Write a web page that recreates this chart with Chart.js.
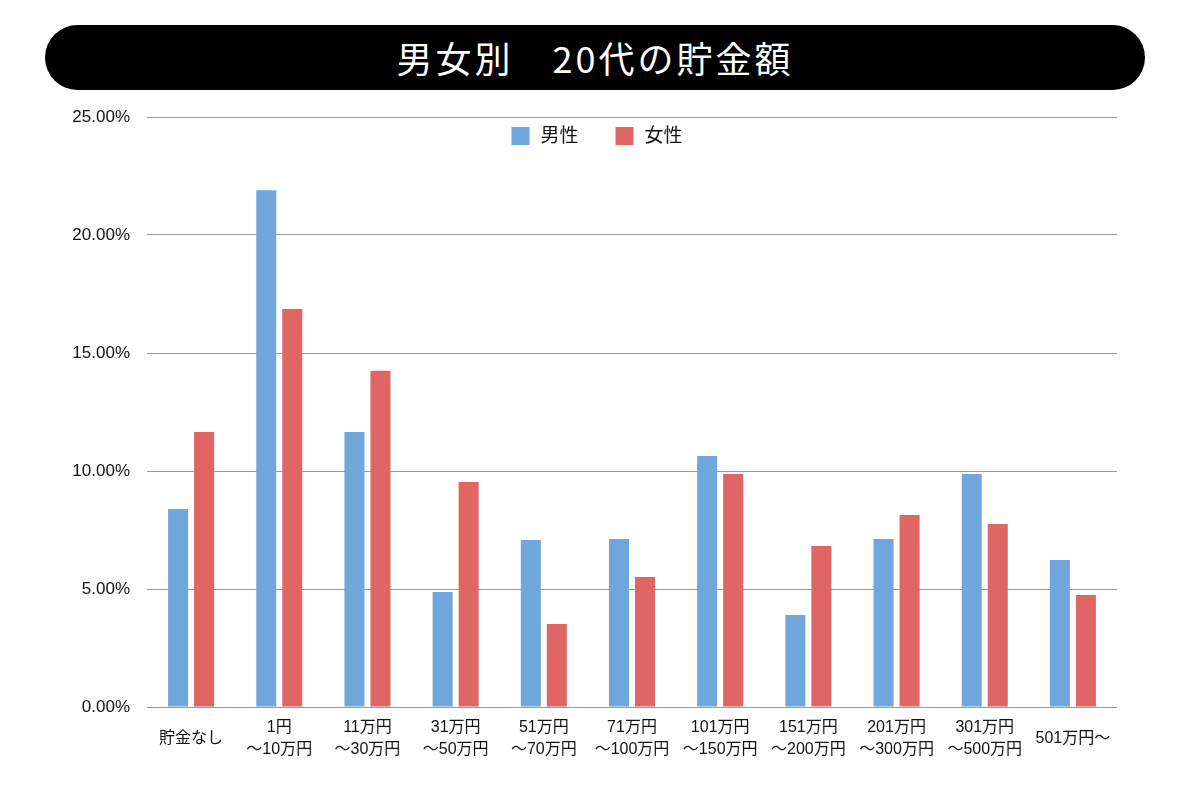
<!DOCTYPE html>
<html><head><meta charset="utf-8">
<script src="https://cdn.jsdelivr.net/npm/chart.js@4"></script>
<style>
html,body{margin:0;padding:0;background:#fff;}
#wrap{position:relative;width:1200px;height:800px;}
#title{position:absolute;left:45px;top:25px;width:1100px;height:65px;background:#000;border-radius:33px;color:#fff;font-family:'Noto Sans CJK JP',sans-serif;font-size:36px;line-height:65px;text-align:center;letter-spacing:3px;}
canvas{position:absolute;left:0;top:0;}
</style></head><body>
<div id="wrap"><div id="title">男女別　20代の貯金額</div><canvas id="c" width="1200" height="800"></canvas></div>
<script>
const categories = ['貯金なし', ['1円','〜10万円'], ['11万円','〜30万円'], ['31万円','〜50万円'], ['51万円','〜70万円'], ['71万円','〜100万円'], ['101万円','〜150万円'], ['151万円','〜200万円'], ['201万円','〜300万円'], ['301万円','〜500万円'], '501万円〜'];
const maleValues = [8.39, 21.9, 11.65, 4.87, 7.08, 7.12, 10.64, 3.90, 7.12, 9.87, 6.23];
const femaleValues = [11.65, 16.86, 14.25, 9.53, 3.52, 5.51, 9.87, 6.82, 8.14, 7.75, 4.75];
const seriesNames = ['男性', '女性'];
const yTicks = [0, 5, 10, 15, 20, 25];

const FONT = '"Liberation Sans","Noto Sans CJK JP",sans-serif';

const legendPlugin = {
  id: 'inlineLegend',
  afterDraw(chart) {
    const ctx = chart.ctx;
    const ds = chart.data.datasets;
    ctx.save();
    ctx.font = '19px ' + FONT;
    const box = 18, gap = 11, itemGap = 37;
    const widths = ds.map(d => box + gap + ctx.measureText(d.label).width);
    const total = widths.reduce((a, b) => a + b, 0) + itemGap * (ds.length - 1);
    let x = chart.width / 2 - total / 2 - 3;
    const y = 136;
    ds.forEach((d, i) => {
      ctx.fillStyle = d.backgroundColor;
      ctx.fillRect(x, y - box / 2, box, box);
      ctx.fillStyle = '#111';
      ctx.textBaseline = 'middle';
      ctx.textAlign = 'left';
      ctx.fillText(d.label, x + box + gap, y + 1);
      x += widths[i] + itemGap;
    });
    ctx.restore();
  }
};

new Chart(document.getElementById('c'), {
  type: 'bar',
  data: {
    labels: categories,
    datasets: [
      { label: seriesNames[0], data: maleValues, backgroundColor: '#6fa7dc', barPercentage: 0.77, categoryPercentage: 0.59 },
      { label: seriesNames[1], data: femaleValues, backgroundColor: '#e06666', barPercentage: 0.77, categoryPercentage: 0.59 }
    ]
  },
  options: {
    responsive: false,
    animation: false,
    layout: { padding: { left: 0, right: 83, top: 117, bottom: 0 } },
    plugins: { legend: { display: false }, title: { display: false }, tooltip: { enabled: false } },
    scales: {
      x: {
        grid: { display: false, drawTicks: false },
        border: { display: false },
        ticks: { color: '#111', font: { family: FONT, size: 16, lineHeight: 1.375 }, padding: 21, maxRotation: 0, autoSkip: false, crossAlign: 'center' },
        afterFit(scale) { scale.height = 93; }
      },
      y: {
        min: 0, max: 25,
        afterBuildTicks(scale) { scale.ticks = yTicks.map(v => ({ value: v })); },
        grid: { color: '#9a9a9a', lineWidth: 1, drawTicks: false },
        border: { display: false },
        ticks: { color: '#111', font: { family: FONT, size: 17 }, padding: 17, callback: v => v.toFixed(2) + '%' },
        afterFit(scale) { scale.width = 147; }
      }
    }
  },
  plugins: [legendPlugin]
});
</script>
</body></html>
